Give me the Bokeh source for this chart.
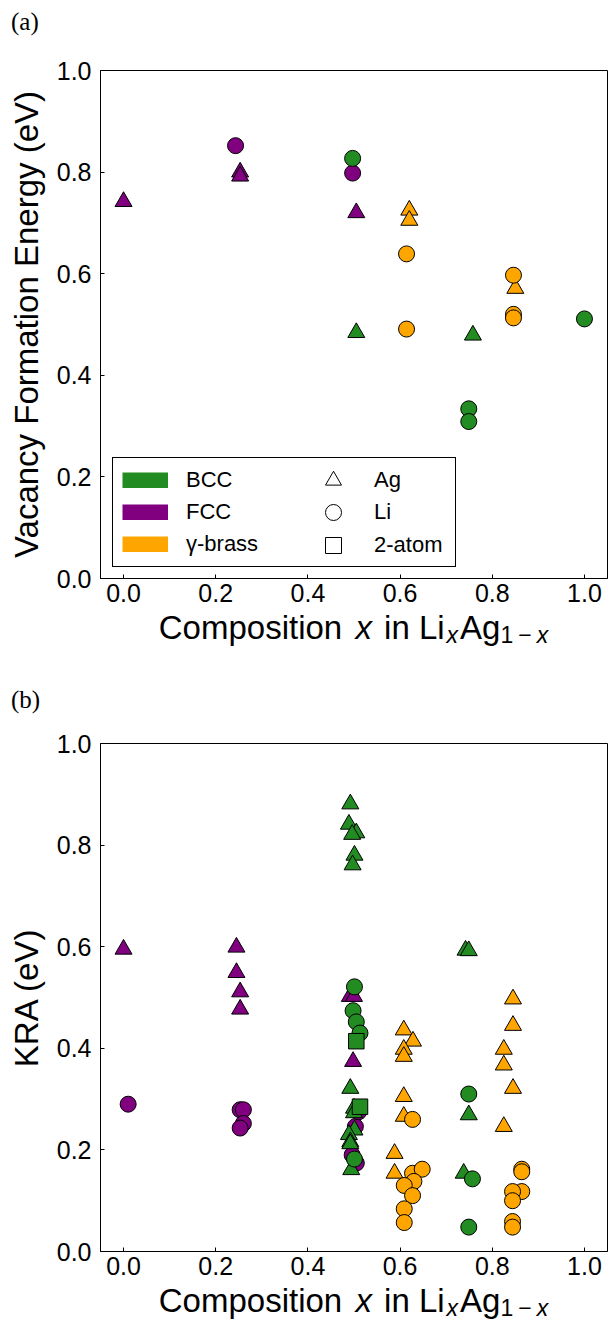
from bokeh.plotting import figure
from bokeh.layouts import column
from bokeh.models import Range1d, FixedTicker, Legend, LegendItem, Div
from bokeh.embed import file_html
from bokeh.resources import INLINE

# ---------------- data ----------------
tick_values = [0.0, 0.2, 0.4, 0.6, 0.8, 1.0]
tick_labels = ["0.0", "0.2", "0.4", "0.6", "0.8", "1.0"]

phase_names = ["BCC", "FCC", "γ-brass"]
phase_colors = ["#228B22", "#800080", "#FFA500"]
site_names = ["Ag", "Li", "2-atom"]
site_markers = ["triangle", "circle", "square"]

# Panel (a): vacancy formation energy
vfe_fcc_ag_x = [0.0, 0.253, 0.253, 0.505]
vfe_fcc_ag_y = [0.742, 0.800, 0.792, 0.720]
vfe_fcc_li_x = [0.243, 0.497]
vfe_fcc_li_y = [0.852, 0.798]
vfe_bcc_ag_x = [0.505, 0.758]
vfe_bcc_ag_y = [0.484, 0.479]
vfe_bcc_li_x = [0.497, 0.749, 0.749, 1.0]
vfe_bcc_li_y = [0.827, 0.334, 0.309, 0.511]
vfe_gam_ag_x = [0.620, 0.620, 0.850]
vfe_gam_ag_y = [0.725, 0.705, 0.571]
vfe_gam_li_x = [0.614, 0.614, 0.846, 0.846, 0.846]
vfe_gam_li_y = [0.639, 0.491, 0.597, 0.520, 0.513]

# Panel (b): KRA
kra_fcc_ag_x = [0.0, 0.245, 0.245, 0.253, 0.253, 0.491, 0.500, 0.498]
kra_fcc_ag_y = [0.595, 0.599, 0.549, 0.511, 0.477, 0.502, 0.502, 0.374]
kra_fcc_li_x = [0.010, 0.253, 0.260, 0.260, 0.253, 0.503, 0.510, 0.496, 0.505]
kra_fcc_li_y = [0.290, 0.279, 0.279, 0.252, 0.243, 0.246, 0.275, 0.190, 0.174]
kra_bcc_ag_x = [0.492, 0.489, 0.505, 0.496, 0.501, 0.497, 0.492, 0.500, 0.500,
                0.501, 0.489, 0.492, 0.492, 0.494, 0.742, 0.749, 0.749, 0.738]
kra_bcc_ag_y = [0.881, 0.841, 0.824, 0.821, 0.780, 0.761, 0.321, 0.282, 0.273,
                0.239, 0.230, 0.216, 0.212, 0.161, 0.593, 0.592, 0.269, 0.154]
kra_bcc_li_x = [0.501, 0.498, 0.505, 0.513, 0.501, 0.749, 0.757, 0.749]
kra_bcc_li_y = [0.521, 0.474, 0.452, 0.430, 0.182, 0.310, 0.143, 0.048]
kra_bcc_2a_x = [0.505, 0.513]
kra_bcc_2a_y = [0.414, 0.285]
kra_gam_ag_x = [0.608, 0.628, 0.608, 0.608, 0.608, 0.608, 0.588, 0.588,
                0.845, 0.845, 0.825, 0.825, 0.845, 0.825]
kra_gam_ag_y = [0.436, 0.414, 0.398, 0.384, 0.305, 0.266, 0.193, 0.154,
                0.497, 0.445, 0.398, 0.367, 0.321, 0.246]
kra_gam_li_x = [0.627, 0.627, 0.648, 0.630, 0.609, 0.627, 0.609, 0.609,
                0.864, 0.864, 0.864, 0.844, 0.844, 0.844, 0.844]
kra_gam_li_y = [0.260, 0.154, 0.162, 0.138, 0.130, 0.110, 0.084, 0.057,
                0.162, 0.157, 0.118, 0.118, 0.100, 0.059, 0.048]

# ---------------- styling ----------------
SANS = "Liberation Sans"
color_of = dict(zip(phase_names, phase_colors))
marker_size = {"triangle": 17, "circle": 16, "square": 15.5}
NAN = float("nan")


def make_fig(ylabel, top):
    p = figure(width=608, height=top + 508 + 35,
               x_range=Range1d(-0.05, 1.05), y_range=Range1d(0, 1),
               output_backend="svg", toolbar_location=None,
               min_border_left=100, min_border_right=1,
               min_border_top=top, min_border_bottom=35)
    p.background_fill_color = "white"
    p.border_fill_color = "white"
    p.grid.grid_line_color = None
    p.outline_line_color = "black"
    p.outline_line_alpha = 1
    p.outline_line_width = 1
    for ax in (p.xaxis[0], p.yaxis[0]):
        ax.ticker = FixedTicker(ticks=tick_values)
        ax.major_label_overrides = dict(zip(tick_values, tick_labels))
        ax.major_tick_in = 4
        ax.major_tick_out = 0
        ax.minor_tick_line_color = None
        ax.axis_line_color = "black"
        ax.major_tick_line_color = "black"
        ax.major_label_text_font = SANS
        ax.major_label_text_font_size = "25px"
        ax.major_label_text_color = "black"
        ax.axis_label_text_font = SANS
        ax.axis_label_text_font_size = "33px"
        ax.axis_label_text_font_style = "normal"
        ax.axis_label_text_color = "black"
    p.xaxis[0].major_label_standoff = 5
    p.yaxis[0].major_label_standoff = 9
    p.yaxis[0].axis_label = ylabel
    p.yaxis[0].axis_label_standoff = 9
    return p


def add_series(p, x, y, phase, marker):
    p.scatter(x=x, y=y, marker=marker, size=marker_size[marker],
              fill_color=color_of[phase], line_color="black", line_width=1)


def xlabel_div(height):
    sub = 'style="font-size:23px; vertical-align:-4px; line-height:0"'
    html = ('<div style="width:608px; box-sizing:border-box; padding-left:99px; '
            'text-align:center; font-family:\'Liberation Sans\'; font-size:33px; '
            'line-height:30px; color:black; white-space:nowrap;">'
            'Composition <i style="margin:0 3px 0 4px">x</i> in Li'
            f'<sub {sub}><i style="margin:0 2px">x</i></sub>Ag'
            f'<sub {sub}>1<span style="margin:0 5px">−</span><i>x</i></sub></div>')
    return Div(text=html, width=608, height=height, margin=0)


def tag_div(tag, height, pad_top):
    html = ('<div style="font-family:\'Liberation Serif\'; font-size:25px; '
            f'line-height:25px; padding-left:11px; padding-top:{pad_top}px; color:black">'
            f'{tag}</div>')
    return Div(text=html, width=608, height=height, margin=0)


# ---------------- panel (a) ----------------
pa = make_fig("Vacancy Formation Energy (eV)", 24)
add_series(pa, vfe_fcc_ag_x, vfe_fcc_ag_y, "FCC", "triangle")
add_series(pa, vfe_fcc_li_x, vfe_fcc_li_y, "FCC", "circle")
add_series(pa, vfe_bcc_ag_x, vfe_bcc_ag_y, "BCC", "triangle")
add_series(pa, vfe_bcc_li_x, vfe_bcc_li_y, "BCC", "circle")
add_series(pa, vfe_gam_ag_x, vfe_gam_ag_y, "γ-brass", "triangle")
add_series(pa, vfe_gam_li_x, vfe_gam_li_y, "γ-brass", "circle")

# legend: phase colour bars (placeholder renderers hold one NaN point so nothing is drawn in the plot)
phase_items = []
for name in phase_names:
    r = pa.line(x=[NAN], y=[NAN], line_color=color_of[name], line_width=16)
    phase_items.append(LegendItem(label=name, renderers=[r]))
leg_a = Legend(items=phase_items, location=(12, 11), orientation="vertical",
               glyph_width=46, glyph_height=16, label_standoff=18,
               label_width=260, label_height=25, spacing=6, padding=9,
               label_text_font=SANS, label_text_font_size="22px",
               label_text_color="black",
               border_line_color="black", border_line_width=1, border_line_alpha=1,
               background_fill_color="white", background_fill_alpha=1)
pa.add_layout(leg_a)

# legend: site markers, one single-row legend per marker so markers stay large
row_offsets = [78, 46, 13]
for name, mk, yoff in zip(site_names, site_markers, row_offsets):
    r = pa.scatter(x=[NAN], y=[NAN], marker=mk, size=16, fill_color="white",
                   line_color="black", line_width=1)
    leg = Legend(items=[LegendItem(label=name, renderers=[r])], location=(210, yoff),
                 glyph_width=46, glyph_height=40, label_standoff=18,
                 spacing=0, padding=0,
                 label_text_font=SANS, label_text_font_size="22px",
                 label_text_color="black",
                 border_line_color=None, background_fill_alpha=0)
    pa.add_layout(leg)

# ---------------- panel (b) ----------------
pb = make_fig("KRA (eV)", 25)
add_series(pb, kra_fcc_ag_x, kra_fcc_ag_y, "FCC", "triangle")
add_series(pb, kra_fcc_li_x, kra_fcc_li_y, "FCC", "circle")
add_series(pb, kra_bcc_ag_x, kra_bcc_ag_y, "BCC", "triangle")
add_series(pb, kra_bcc_li_x, kra_bcc_li_y, "BCC", "circle")
add_series(pb, kra_bcc_2a_x, kra_bcc_2a_y, "BCC", "square")
add_series(pb, kra_gam_ag_x, kra_gam_ag_y, "γ-brass", "triangle")
add_series(pb, kra_gam_li_x, kra_gam_li_y, "γ-brass", "circle")

# heights: 46 + 567 + 59 + 46 + 568 + 35 = 1321
layout = column(tag_div("(a)", 46, 9), pa, xlabel_div(59),
                tag_div("(b)", 46, 15), pb, xlabel_div(35), spacing=0)
open("out.html", "w").write(file_html(layout, INLINE, title="LixAg1-x"))
